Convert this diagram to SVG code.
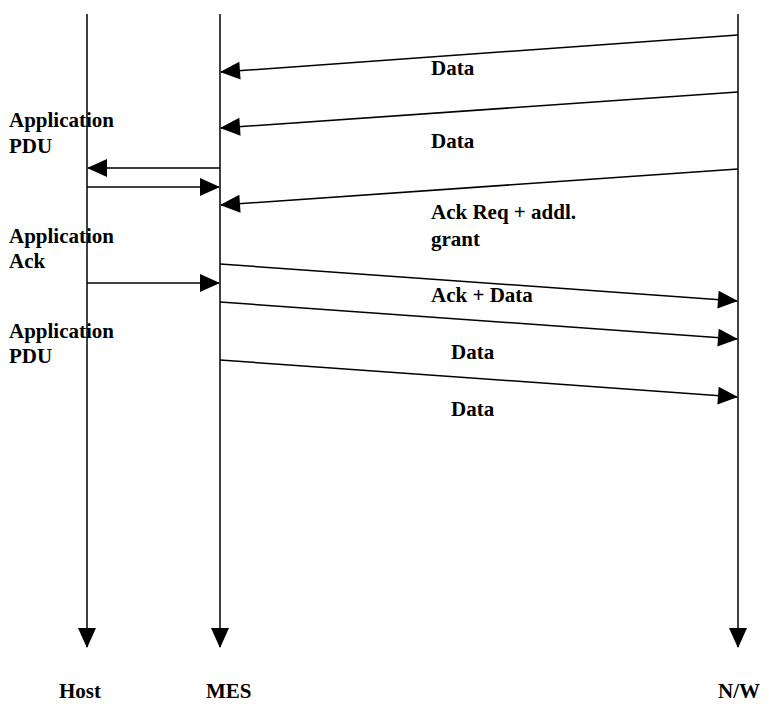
<svg xmlns="http://www.w3.org/2000/svg" width="769" height="704" viewBox="0 0 769 704">
<style>
.m{stroke:#000;stroke-width:1.5;fill:none;marker-end:url(#ah)}
text{font-family:"Liberation Serif","Times New Roman",serif;font-weight:bold;font-size:21px;fill:#000}
</style>
<defs>
<marker id="ah" markerUnits="userSpaceOnUse" markerWidth="20" markerHeight="18" refX="19" refY="9" orient="auto" overflow="visible">
<path d="M0,0 L20,9 L0,18 z" fill="#000"/>
</marker>
</defs>
<g id="host"><line class="m" x1="87" y1="14" x2="87" y2="647"/><text x="59" y="698">Host</text></g>
<g id="mes"><line class="m" x1="220" y1="14" x2="220" y2="647"/><text x="206" y="698">MES</text></g>
<g id="nw"><line class="m" x1="738" y1="14" x2="738" y2="647"/><text x="718" y="698">N/W</text></g>
<g id="connectors">
<line class="m" x1="738" y1="35" x2="221" y2="72"/>
<line class="m" x1="738" y1="92" x2="221" y2="128"/>
<line class="m" x1="738" y1="169" x2="221" y2="205"/>
<line class="m" x1="220" y1="264" x2="737" y2="301"/>
<line class="m" x1="220" y1="302" x2="737" y2="339"/>
<line class="m" x1="220" y1="360" x2="737" y2="397"/>
<line class="m" x1="220" y1="168" x2="88" y2="168"/>
<line class="m" x1="87" y1="187" x2="219" y2="187"/>
<line class="m" x1="87" y1="283" x2="219" y2="283"/>
</g>
<g id="labels">
<text x="431" y="75">Data</text>
<text x="431" y="148">Data</text>
<text x="431" y="219">Ack Req + addl.</text>
<text x="431" y="246">grant</text>
<text x="431" y="302">Ack + Data</text>
<text x="451" y="359">Data</text>
<text x="451" y="416">Data</text>
<text x="9" y="127">Application</text>
<text x="9" y="153">PDU</text>
<text x="9" y="243">Application</text>
<text x="9" y="268">Ack</text>
<text x="9" y="338">Application</text>
<text x="9" y="363">PDU</text>
</g>
</svg>
